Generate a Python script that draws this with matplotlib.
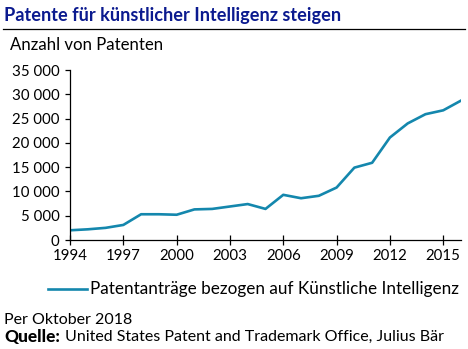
import matplotlib
matplotlib.use('Agg')
import matplotlib.pyplot as plt
from matplotlib.ticker import FuncFormatter
from matplotlib.lines import Line2D

years = list(range(1994, 2017))
patents = [2000, 2200, 2500, 3100, 5300, 5300, 5200, 6300, 6400, 6900, 7400, 6400,
           9300, 8600, 9100, 10800, 14900, 15900, 21100, 24000, 25900, 26700, 28700]
x_ticks = [1994, 1997, 2000, 2003, 2006, 2009, 2012, 2015]
y_ticks = [0, 5000, 10000, 15000, 20000, 25000, 30000, 35000]

LINE_COLOR = '#1487ad'
TITLE_COLOR = '#0b1a8f'
plt.rcParams['font.family'] = ['Lato', 'DejaVu Sans']

fig = plt.figure(figsize=(4.68, 3.49), dpi=100)
W, H = 468, 349
# axes: left spine x=70, bottom y=240, top y=70, right x=461
ax = fig.add_axes([70 / W, 1 - 240 / H, (461 - 70) / W, (240 - 70) / H])

ax.plot(years, patents, color=LINE_COLOR, lw=1.9, solid_joinstyle='round')
ax.set_xlim(1994, 2016)
ax.set_ylim(0, 35000)
ax.set_xticks(x_ticks)
ax.set_yticks(y_ticks)
ax.yaxis.set_major_formatter(FuncFormatter(lambda v, p: f'{int(v):,}'.replace(',', ' ')))
for s in ['top', 'right']:
    ax.spines[s].set_visible(False)
for s in ['left', 'bottom']:
    ax.spines[s].set_linewidth(0.9)
ax.tick_params(axis='x', direction='inout', length=7, width=0.9, labelsize=10.8, pad=3)
ax.tick_params(axis='y', direction='out', length=3.5, width=0.9, labelsize=10.8, pad=4)

# title and rule
fig.text(4 / W, 1 - 16 / H, 'Patente für künstlicher Intelligenz steigen', color=TITLE_COLOR,
         fontsize=13.1, fontweight='bold', va='center', ha='left')
fig.add_artist(Line2D([3 / W, 465 / W], [1 - 28.5 / H] * 2, color='black', lw=0.9))
fig.text(10 / W, 1 - 45 / H, 'Anzahl von Patenten', fontsize=12.1, va='center', ha='left')

# legend
fig.add_artist(Line2D([48 / W, 87 / W], [1 - 289 / H] * 2, color=LINE_COLOR, lw=1.9))
fig.text(90 / W, 1 - 289 / H, 'Patentanträge bezogen auf Künstliche Intelligenz',
         fontsize=12.3, va='center', ha='left')

# footer
fig.text(4 / W, 1 - 320 / H, 'Per Oktober 2018', fontsize=11.5, va='center', ha='left')
fig.text(4 / W, 1 - 337 / H, 'Quelle:', fontsize=12.4, fontweight='black', va='center', ha='left')
fig.text(65 / W, 1 - 337 / H, 'United States Patent and Trademark Office, Julius Bär',
         fontsize=11.5, va='center', ha='left')

fig.savefig('out.png', dpi=100)
